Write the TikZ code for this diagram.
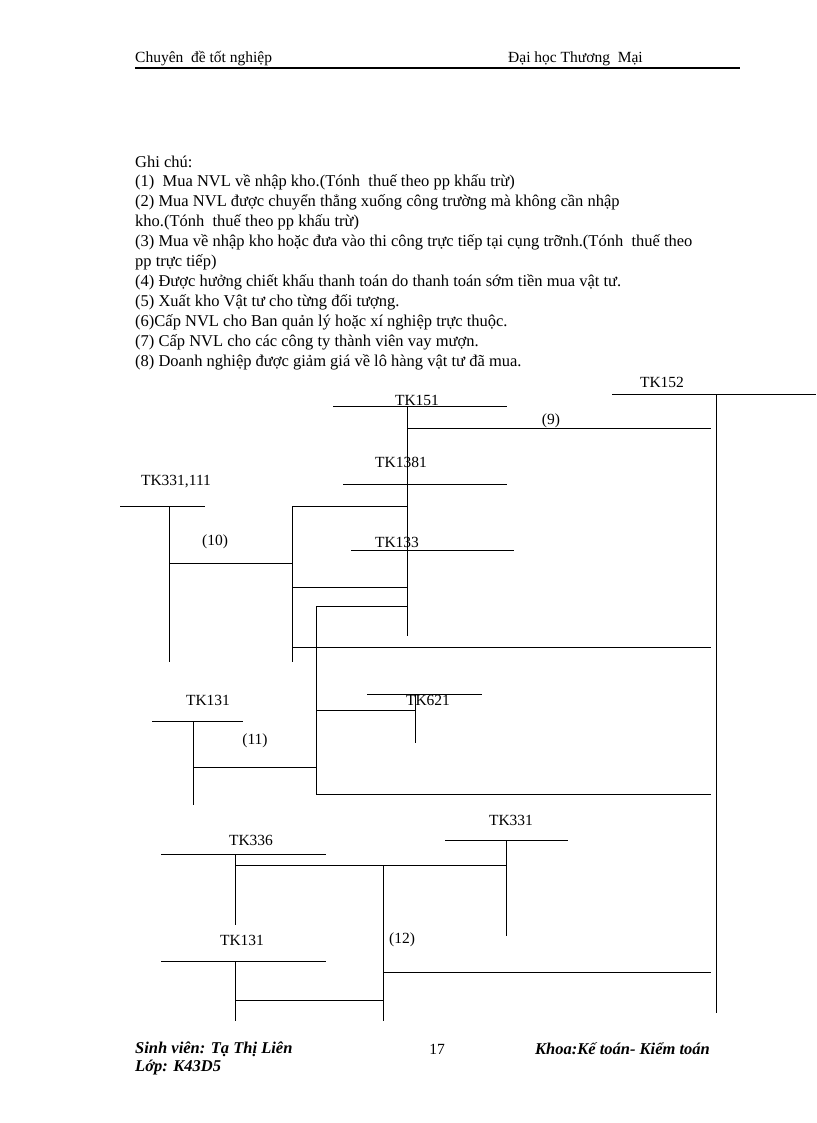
\documentclass[tikz,border=0pt]{standalone}
\usepackage{fontspec}
\setmainfont{Liberation Serif}
\begin{document}
\begin{tikzpicture}[x=1pt,y=-1pt,
  t/.style={anchor=west,inner sep=0,font=\fontsize{16.5}{18}\selectfont},
  h/.style={anchor=west,inner sep=0,font=\fontsize{15.5}{18}\selectfont},
  c/.style={inner sep=0,font=\fontsize{15.5}{18}\selectfont},
  f/.style={anchor=west,inner sep=0,font=\fontsize{16.5}{18}\selectfont\bfseries\itshape},
  ln/.style={line width=0.8pt}]
\useasboundingbox (0,0) rectangle (816,1123);
\node[h] (h1) at (135,59) {Chuyên \ đề tốt nghiệp};
\node[h] (h2) at (508,59) {Đại học Thương \ Mại};
\draw[line width=1.2pt] (135,68) -- (740,68);
\foreach \y/\s in {162/{Ghi chú:},182/{(1) \ Mua NVL về nhập kho.(Tónh \ thuế theo pp khấu trừ)},
 202/{(2) Mua NVL được chuyển thẳng xuống công trường mà không cần nhập},
 222/{kho.(Tónh \ thuế theo pp khấu trừ)},
 242/{(3) Mua về nhập kho hoặc đưa vào thi công trực tiếp tại cụng trỡnh.(Tónh \ thuế theo},
 262/{pp trực tiếp)},
 282/{(4) Được hưởng chiết khấu thanh toán do thanh toán sớm tiền mua vật tư.},
 302/{(5) Xuất kho Vật tư cho từng đối tượng.},
 322/{(6)Cấp NVL cho Ban quản lý hoặc xí nghiệp trực thuộc.},
 342/{(7) Cấp NVL cho các công ty thành viên vay mượn.},
 362/{(8) Doanh nghiệp được giảm giá về lô hàng vật tư đã mua.}}
 \node[t] at (135,\y) {\s};
% accounts
\node[c] (a152) at (662,382) {TK152};
\draw[ln] (612,394) -- (816,394) (716,394) -- (716,1013);
\node[c] (a151) at (417,400) {TK151};
\draw[ln] (333,406) -- (507,406) (407,406) -- (407,636);
\node[c] (l9) at (551,421) {(9)};
\draw[ln] (407,428) -- (711,428);
\node[c] (a1381) at (401,462) {TK1381};
\draw[ln] (343,484) -- (507,484);
\node[c] (a133) at (397,542) {TK133};
\draw[ln] (351,550) -- (514,550);
\node[c] (a331) at (176,482) {TK331,111};
\draw[ln] (120,506) -- (205,506) (169,506) -- (169,662);
\node[c] (l10) at (215,542) {(10)};
\draw[ln] (169,563) -- (292,563);
\draw[ln] (292,506) -- (292,662) (292,506) -- (407,506) (292,587) -- (407,587) (292,647) -- (711,647);
\draw[ln] (316,606) -- (316,794) (316,606) -- (407,606) (316,710) -- (415,710) (316,794) -- (711,794);
\draw[ln] (367,694) -- (482,694) (415,694) -- (415,743);
\node[c] (a621) at (428,700) {TK621};
\node[c] (a131) at (208,700) {TK131};
\draw[ln] (152,721) -- (243,721) (193,721) -- (193,805) (193,767) -- (316,767);
\node[c] (l11) at (255,741) {(11)};
\node[c] (a336) at (251,840) {TK336};
\draw[ln] (161,854) -- (326,854) (235,854) -- (235,925) (235,865) -- (507,865);
\node[c] (a331b) at (511,820) {TK331};
\draw[ln] (445,840) -- (568,840) (506,840) -- (506,936);
\draw[ln] (383,865) -- (383,1021) (383,972) -- (711,972);
\node[c] (l12) at (402,940) {(12)};
\node[c] (a131b) at (242,940) {TK131};
\draw[ln] (161,961) -- (326,961) (235,961) -- (235,1021) (235,1000) -- (383,1000);
% footer
\node[f] (s1) at (135,1049) {Sinh viên: Tạ Thị Liên};
\node[c] (pg) at (437,1049) {17};
\node[f] (s2) at (535,1049) {Khoa:Kế toán- Kiểm toán};
\node[f] (s3) at (135,1068) {Lớp: K43D5};
\end{tikzpicture}
\end{document}
